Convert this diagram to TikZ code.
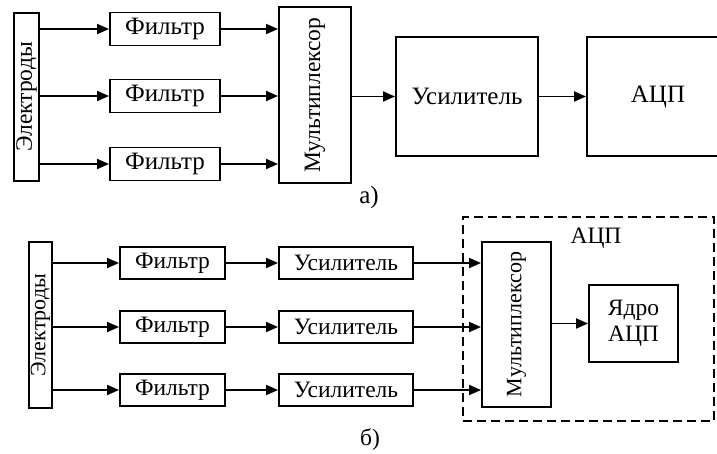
\documentclass[tikz,border=0pt]{standalone}
\usepackage{fontspec}
\setmainfont{Liberation Serif}
\usetikzlibrary{arrows.meta}
\begin{document}
\begin{tikzpicture}[x=1pt,y=-1pt,
  box/.style={draw,line width=1.9pt,inner sep=0pt,align=center},
  topfont/.style={font=\fontsize{25}{26}\selectfont},
  botfont/.style={font=\fontsize{23.5}{26}\selectfont},
  toprot/.style={font=\fontsize{23.5}{26}\selectfont},
  botrot/.style={font=\fontsize{22}{24}\selectfont},
  arr/.style={line width=1.8pt,-{Triangle[length=12pt,width=10pt]}},
  frame/.style={draw,line width=1.9pt,dash pattern=on 9pt off 5pt}]
\clip (0,0) rectangle (717,454);
% ---------- a) ----------
\begin{scope}[topfont]
\node[box,toprot,minimum width=25pt,minimum height=168pt] (el1) at (26.5,97) {\rotatebox{90}{Электроды}};
\node[box,minimum width=110pt,minimum height=33pt] (fa1) at (165,29) {Фильтр};
\node[box,minimum width=110pt,minimum height=33pt] (fa2) at (165,96) {Фильтр};
\node[box,minimum width=110pt,minimum height=33pt] (fa3) at (165,164) {Фильтр};
\node[box,toprot,minimum width=72pt,minimum height=176pt] (mux1) at (315,95) {\rotatebox{90}{Мультиплексор}};
\node[box,minimum width=142pt,minimum height=119pt] (amp1) at (467,96.5) {Усилитель};
\node[box,minimum width=142pt,minimum height=119pt] (adc1) at (658,96.5) {АЦП};
\node (la) at (369,197) {а)};
\end{scope}
\draw[arr] (el1.east |- fa1.west) -- (fa1.west);
\draw[arr] (el1.east |- fa2.west) -- (fa2.west);
\draw[arr] (el1.east |- fa3.west) -- (fa3.west);
\draw[arr] (fa1.east) -- (fa1.east -| mux1.west);
\draw[arr] (fa2.east) -- (fa2.east -| mux1.west);
\draw[arr] (fa3.east) -- (fa3.east -| mux1.west);
\draw[arr] (mux1.east |- amp1.west) -- (amp1.west);
\draw[arr] (amp1.east) -- (adc1.west);
% ---------- b) ----------
\begin{scope}[botfont]
\node[frame,minimum width=251pt,minimum height=204pt] (fr) at (588.5,319) {};
\node (adclab) at (596,238) {АЦП};
\node[box,botrot,minimum width=23pt,minimum height=166pt] (el2) at (40.5,325) {\rotatebox{90}{Электроды}};
\node[box,minimum width=105pt,minimum height=32pt] (fb1) at (172.5,263) {Фильтр};
\node[box,minimum width=105pt,minimum height=32pt] (fb2) at (172.5,327) {Фильтр};
\node[box,minimum width=105pt,minimum height=32pt] (fb3) at (172.5,390) {Фильтр};
\node[box,minimum width=134pt,minimum height=32pt] (ab1) at (346,263) {Усилитель};
\node[box,minimum width=134pt,minimum height=32pt] (ab2) at (346,327) {Усилитель};
\node[box,minimum width=134pt,minimum height=32pt] (ab3) at (346,390) {Усилитель};
\node[box,botrot,minimum width=69pt,minimum height=165pt] (mux2) at (516.5,324.5) {\rotatebox{90}{Мультиплексор}};
\node[box,minimum width=89pt,minimum height=77pt] (core) at (633.5,323.5) {Ядро\\АЦП};
\node (lb) at (370,440) {б)};
\end{scope}
\foreach \i in {1,2,3}{
  \draw[arr] (el2.east |- fb\i.west) -- (fb\i.west);
  \draw[arr] (fb\i.east) -- (ab\i.west);
  \draw[arr] (ab\i.east) -- (ab\i.east -| mux2.west);
}
\draw[arr] (mux2.east |- core.west) -- (core.west);
\end{tikzpicture}
\end{document}
